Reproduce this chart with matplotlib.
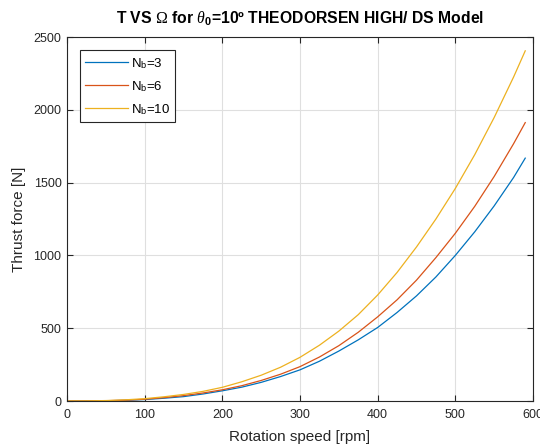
import matplotlib
matplotlib.use("Agg")
import matplotlib.pyplot as plt

plt.rcParams['font.family'] = ['Liberation Sans', 'DejaVu Sans']
plt.rcParams['mathtext.fontset'] = 'custom'
plt.rcParams['mathtext.rm'] = 'Liberation Serif'
plt.rcParams['mathtext.it'] = 'Liberation Serif:italic'
plt.rcParams['mathtext.bf'] = 'Liberation Sans:bold'
plt.rcParams['mathtext.sf'] = 'Liberation Sans'

rpm = [0, 25, 50, 75, 100, 125, 150, 175, 200, 225, 250, 275, 300, 325, 350,
       375, 400, 425, 450, 475, 500, 525, 550, 575, 590]
thrust_nb3 = [0, 0.3, 1.5, 4.5, 10, 19, 30, 48, 70, 95, 128, 168, 214, 273, 343,
              420, 505, 608, 722, 852, 1000, 1162, 1340, 1535, 1668]
thrust_nb6 = [0, 0.4, 2, 5.5, 12, 23, 37, 55, 77, 105, 141, 184, 236, 302, 380,
              472, 578, 695, 830, 985, 1152, 1337, 1542, 1767, 1912]
thrust_nb10 = [0, 0.5, 3, 8, 16, 29, 45, 66, 94, 132, 177, 232, 300, 383, 480,
               593, 728, 883, 1058, 1250, 1460, 1692, 1947, 2225, 2405]
labels = ['N$_\\mathsf{b}$=3', 'N$_\\mathsf{b}$=6', 'N$_\\mathsf{b}$=10']
colors = ['#0072BD', '#D95319', '#EDB120']

fig = plt.figure(figsize=(5.4, 4.45), dpi=100)
ax = fig.add_axes([67/540, 44/445, 466/540, 364/445])

for y, lab, c in zip([thrust_nb3, thrust_nb6, thrust_nb10], labels, colors):
    ax.plot(rpm, y, color=c, lw=0.9, label=lab)

ax.set_xlim(0, 600)
ax.set_ylim(0, 2500)
ax.set_xticks(range(0, 601, 100))
ax.set_yticks(range(0, 2501, 500))
ax.grid(True, color='#dfdfdf', lw=0.8)
ax.set_axisbelow(True)
ax.tick_params(axis='both', direction='in', length=4, width=0.8, top=True, right=True,
               labelsize=9, colors='#262626')
ax.tick_params(axis='x', pad=6)
ax.tick_params(axis='y', pad=4)
for s in ax.spines.values():
    s.set_color('#262626')
    s.set_linewidth(0.8)

ax.set_xlabel('Rotation speed [rpm]', fontsize=11, color='#262626', labelpad=6)
ax.set_ylabel('Thrust force [N]', fontsize=11, color='#262626', labelpad=5)
ax.set_title('T VS $\\Omega$ for $\\theta_\\mathbf{0}$=10º THEODORSEN HIGH/ DS Model',
             fontsize=11.3, fontweight='bold', pad=10)

leg = ax.legend(loc='upper left', bbox_to_anchor=(0.028, 0.963), fontsize=9.5,
                handlelength=3.2, handletextpad=0.25, labelspacing=0.62,
                borderpad=0.4, fancybox=False, framealpha=1, borderaxespad=0)
leg.get_frame().set_edgecolor('#262626')
leg.get_frame().set_linewidth(0.8)

fig.savefig('out.png', dpi=100)
